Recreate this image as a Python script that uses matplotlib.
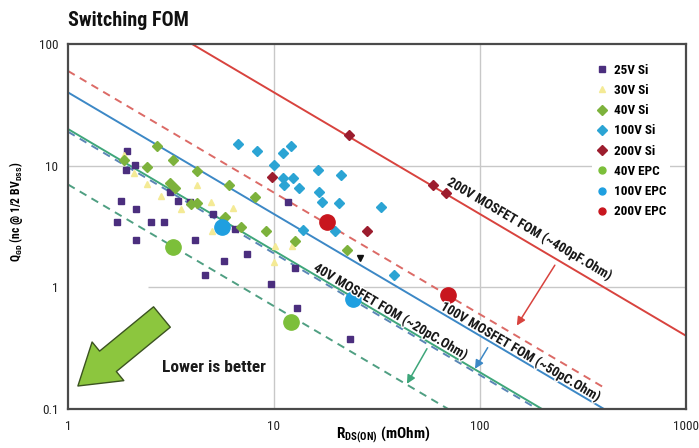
import matplotlib
matplotlib.use('Agg')
import matplotlib.pyplot as plt
import matplotlib.patheffects as pe
from matplotlib.lines import Line2D
import numpy as np

plt.rcParams['font.family'] = ['Roboto Condensed', 'Open Sans Condensed', 'DejaVu Sans']
plt.rcParams['mathtext.fontset'] = 'custom'
plt.rcParams['mathtext.rm'] = 'Roboto Condensed:bold'
plt.rcParams['mathtext.default'] = 'regular'

# ---- data: (R_DS(on) mOhm, Q_GD nC) ----
si25_r = [1.93, 2.11, 1.92, 3.13, 3.42, 3.91, 5.06, 1.81, 2.13, 1.73, 2.53, 2.93,
          2.13, 4.14, 5.75, 4.62, 6.47, 7.37, 9.67, 12.6, 13.0, 23.3, 11.7]
si25_q = [13.1, 10.1, 9.18, 6.13, 5.14, 5.04, 3.97, 5.14, 4.39, 3.44, 3.44, 3.44,
          2.45, 2.45, 1.65, 1.26, 3.02, 1.87, 1.06, 1.43, 0.68, 0.379, 5.04]

si30_r = [1.87, 2.09, 2.42, 2.83, 3.54, 4.23, 4.94, 6.32, 5.0, 10.1, 10.0, 12.2]
si30_q = [12.3, 8.75, 7.10, 5.65, 4.41, 6.97, 5.04, 4.50, 2.90, 2.18, 1.61, 2.18]

si40_r = [2.69, 3.23, 2.42, 4.23, 3.13, 3.31, 6.05, 8.09, 3.95, 4.23, 6.92, 9.14,
          12.6, 1.86, 22.6, 5.78]
si40_q = [14.5, 11.1, 9.72, 8.97, 7.19, 6.54, 6.97, 5.57, 4.85, 4.94, 3.16, 2.93,
          2.42, 11.2, 2.04, 3.77]

si100_r = [6.68, 8.30, 11.1, 12.1, 10.0, 16.3, 21.1, 11.1, 12.4, 11.2, 13.2, 16.6,
           17.1, 20.7, 33.0, 13.9, 19.7, 38.3]
si100_q = [15.1, 13.1, 12.7, 14.5, 10.1, 9.21, 8.38, 7.91, 7.96, 6.97, 6.49, 6.10,
           5.07, 4.94, 4.54, 2.96, 2.90, 1.27]

si200_r = [9.81, 23.1, 28.2, 59.3, 68.1]
si200_q = [8.07, 18.0, 2.90, 6.97, 5.95]

other_r = [26.1]
other_q = [1.73]

epc40_r = [3.22, 12.1]
epc40_q = [2.13, 0.517]
epc100_r = [5.59, 24.3]
epc100_q = [3.15, 0.80]
epc200_r = [18.0, 70.2]
epc200_q = [3.44, 0.86]

# FOM lines (pC.Ohm = nC * mOhm)
fom_200 = 400
fom_200epc = 60
fom_100 = 40
fom_100epc = 19
fom_40 = 20
fom_40epc = 7

fig = plt.figure(figsize=(6.99, 4.48), dpi=100)
ax = fig.add_axes([0.0973, 0.0871, 0.884, 0.8147])
ax.set_xscale('log')
ax.set_yscale('log')
ax.set_xlim(1, 1000)
ax.set_ylim(0.1, 100)

# grid
for gx in [10, 100]:
    ax.axvline(gx, color='#c8c8c8', lw=1, zorder=0)
ax.axhline(10, color='#c8c8c8', lw=1, zorder=0)
ax.hlines(1, 2.45, 1000, color='#c8c8c8', lw=1, zorder=0)

# FOM lines
r_full = np.array([1, 1000])
r_part = np.array([1, 400])
ax.plot(r_full, fom_200 / r_full, color='#d8433e', lw=1.4, zorder=2)
ax.plot(r_part, fom_200epc / r_part, color='#dc6a66', lw=1.4, ls=(0, (4, 3)), zorder=2)
ax.plot(r_full, fom_100 / r_full, color='#3c88c6', lw=1.4, zorder=2)
ax.plot(r_full, fom_100epc / r_full, color='#5a86b6', lw=1.4, ls=(0, (4, 3)), zorder=2)
ax.plot(r_full, fom_40 / r_full, color='#3ea67a', lw=1.4, zorder=2)
ax.plot(r_full, fom_40epc / r_full, color='#4f9f82', lw=1.4, ls=(0, (4, 3)), zorder=2)

# arrows from MOSFET lines to EPC lines
arr = dict(arrowstyle='-|>,head_length=0.5,head_width=0.25', lw=1.1, shrinkA=0, shrinkB=0)
ax.annotate('', xy=(151, 0.485), xytext=(231, 1.52),
            arrowprops=dict(arr, color='#d8433e'), zorder=3)
ax.annotate('', xy=(94.6, 0.214), xytext=(109, 0.319),
            arrowprops=dict(arr, color='#3c88c6'), zorder=3)
ax.annotate('', xy=(44.2, 0.161), xytext=(55.3, 0.313),
            arrowprops=dict(arr, color='#3ea67a'), zorder=3)

# scatter
ax.plot(si25_r, si25_q, 's', color='#4b2e7e', ms=5, zorder=4)
ax.plot(si30_r, si30_q, '^', color='#f4ea95', ms=5, zorder=4)
ax.plot(si40_r, si40_q, 'D', color='#7db23c', ms=5, zorder=4)
ax.plot(si100_r, si100_q, 'D', color='#2ba4d4', ms=5, zorder=4)
ax.plot(si200_r, si200_q, 'D', color='#9c1d2e', ms=5, zorder=4)
ax.plot(other_r, other_q, 'v', color='#111111', ms=5, zorder=4)
ax.plot(epc40_r, epc40_q, 'o', color='#7cbf3a', ms=11, zorder=5)
ax.plot(epc100_r, epc100_q, 'o', color='#1f9fe0', ms=11, zorder=5)
ax.plot(epc200_r, epc200_q, 'o', color='#c8161e', ms=11, zorder=5)

# line labels
lab = dict(rotation=-30.5, rotation_mode='anchor', ha='center', va='center',
           fontsize=9.8, fontweight='bold', color='#1a1a1a', zorder=6,
           path_effects=[pe.withStroke(linewidth=2, foreground='white')])
ax.text(175, 3.02, '200V MOSFET FOM (~400pF.Ohm)', **lab)
ax.text(158, 0.296, '100V MOSFET FOM (~50pC.Ohm)', **lab)
ax.text(37.0, 0.633, '40V MOSFET FOM (~20pC.Ohm)', **lab)

# lower is better arrow
ax.annotate('', xy=(0.016, 0.063), xytext=(0.152, 0.252), xycoords='axes fraction',
            arrowprops=dict(arrowstyle='simple,head_length=1.4,head_width=1.8,tail_width=0.95',
                            mutation_scale=20, fc='#8cc63e', ec='#3b5320', lw=1,
                            shrinkA=0, shrinkB=0), zorder=6)
ax.text(0.152, 0.115, 'Lower is better', transform=ax.transAxes, fontsize=12.5,
        fontweight='bold', color='#1a1a1a', ha='left', va='center')

# legend
names = ['25V Si', '30V Si', '40V Si', '100V Si', '200V Si', '40V EPC', '100V EPC', '200V EPC']
marks = ['s', '^', 'D', 'D', 'D', 'o', 'o', 'o']
cols = ['#4b2e7e', '#f4ea95', '#7db23c', '#2ba4d4', '#9c1d2e', '#7cbf3a', '#1f9fe0', '#c8161e']
handles = [Line2D([], [], ls='none', marker=m, color=c, ms=5) for m, c in zip(marks, cols)]
leg = ax.legend(handles, names, loc='upper right', bbox_to_anchor=(0.985, 0.975),
                labelspacing=0.55, handlelength=0.8, handletextpad=0.5,
                frameon=True, framealpha=1, facecolor='white', edgecolor='none',
                borderpad=0.3, prop={'weight': 'bold', 'size': 9.5})
leg.set_zorder(7)

# axes styling
ax.set_xticks([1, 10, 100, 1000])
ax.set_xticklabels(['1', '10', '100', '1000'])
ax.set_yticks([0.1, 1, 10, 100])
ax.set_yticklabels(['0.1', '1', '10', '100'])
ax.minorticks_off()
ax.tick_params(length=0, labelsize=9.5, colors='#222222')
ax.tick_params(axis='x', pad=8)
ax.tick_params(axis='y', pad=7)
for s in ax.spines.values():
    s.set_color('#4a4a4a')
    s.set_linewidth(1.6)

ax.set_xlabel(r'R$_{DS(ON)}$ (mOhm)', fontsize=11, fontweight='bold')
ax.xaxis.set_label_coords(0.51, -0.043)
ax.set_ylabel(r'Q$_{GD}$ (nc @ 1/2 BV$_{DSS}$)', fontsize=8.5, fontweight='bold')
ax.yaxis.set_label_coords(-0.07, 0.54)

fig.text(68 / 699, 1 - 20 / 448, 'Switching FOM', fontsize=14.5, fontweight='bold',
         ha='left', va='center', color='#111111')

fig.savefig('out.png', dpi=100)
